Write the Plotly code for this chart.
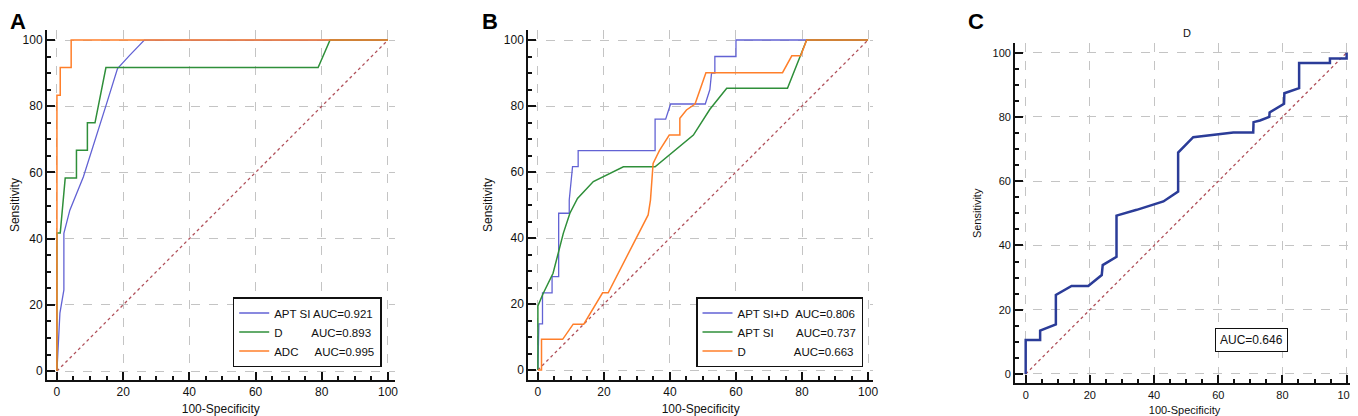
import plotly.graph_objects as go

# panel A: APT SI, D, ADC
a_apt_x = [0, 0.9, 2.1, 2.1, 3.9, 8, 15, 18.3, 22.1, 26.4, 100]
a_apt_y = [0, 17.5, 24.5, 41.6, 48.6, 58.7, 80.8, 91.4, 95.5, 100, 100]
a_d_x = [0, 0, 1, 2.5, 5.9, 5.9, 9.2, 9.2, 11.5, 14.8, 78.9, 82.5, 100]
a_d_y = [0, 41.7, 41.7, 58.3, 58.3, 66.7, 66.7, 75, 75, 91.7, 91.7, 100, 100]
a_adc_x = [0, 0, 1, 1, 4.3, 4.3, 100]
a_adc_y = [0, 83.3, 83.3, 91.7, 91.7, 100, 100]

# panel B: APT SI+D, APT SI, D
b_aptd_x = [0, 0.3, 1.4, 1.4, 4.3, 4.3, 6.3, 6.3, 9.5, 9.5, 10.5, 12.2, 12.2,
            35.5, 35.5, 38.7, 40.2, 50.7, 52.1, 52.6, 53.6, 53.6, 60, 60, 100]
b_aptd_y = [0, 14, 14, 23.4, 23.4, 28.3, 28.3, 47.5, 47.5, 51.5, 61.6, 61.6, 66.5,
            66.5, 76, 76, 80.6, 80.6, 85, 90, 90, 95, 95, 100, 100]
b_apt_x = [0, 0, 1.6, 4.6, 7.7, 9.7, 12, 16.8, 25.9, 35.5, 47.1, 52.1, 57.2, 75.6, 81.4, 100]
b_apt_y = [0, 19.4, 23.2, 29.3, 41.4, 47.5, 52, 57.1, 61.6, 61.6, 71.2, 79, 85.4, 85.4, 100, 100]
b_d_x = [0, 1.1, 1.1, 7.5, 10.7, 13.9, 19.6, 21.3, 33.4, 34.1, 34.9, 36.8, 39.8, 43, 43,
         45, 47.6, 49.1, 50.9, 74.1, 76.9, 79.6, 81.4, 100]
b_d_y = [0, 0, 9.3, 9.3, 13.9, 13.9, 23.4, 23.4, 47, 51.5, 62.6, 66.5, 71.2, 71.2, 76.3,
         78.8, 80.6, 84.8, 90.1, 90.1, 95.2, 95.2, 100, 100]

# panel C: D alone
c_x = [0, 0, 4.5, 4.5, 9.4, 9.4, 14.3, 19.5, 23.7, 24, 28.3, 28.3, 34.6, 42.9, 47.5, 47.5,
       52.2, 59.5, 64.7, 70.9, 71, 73, 75.9, 76, 80.5, 80.6, 85.2, 85.2, 94.8, 94.8, 100, 100]
c_y = [0, 10.6, 10.6, 13.5, 15.4, 24.6, 27.4, 27.4, 30.8, 33.9, 36.5, 49.3, 51.1, 53.7, 56.8, 68.9,
       73.7, 74.5, 75.2, 75.2, 78.4, 78.9, 80, 81.4, 84.1, 87.4, 89, 96.8, 96.8, 98.2, 98.2, 100]

diag = [0, 100]
nb = "\u00a0"

blue = "#6262d4"
green = "#2f8f3a"
orange = "#ff7f2a"
dark_blue = "#2b3c98"
red_dot = "#b0505a"
FONT = "Liberation Sans, Arial, sans-serif"

# page body has an 8px margin, so the figure is 16px smaller and positions shift by 8
W, H, OFF = 1350, 408, 8


def px(p):
    return (p - OFF) / W


def py(p):
    return 1 - (p - OFF) / H


fig = go.Figure()

# A
fig.add_trace(go.Scatter(x=diag, y=diag, mode="lines", line=dict(color=red_dot, width=1.3, dash="dot"),
                         showlegend=False, xaxis="x", yaxis="y"))
fig.add_trace(go.Scatter(x=a_apt_x, y=a_apt_y, mode="lines", line=dict(color=blue, width=1.3),
                         name="APT SI AUC=0.921", legend="legend", xaxis="x", yaxis="y"))
fig.add_trace(go.Scatter(x=a_d_x, y=a_d_y, mode="lines", line=dict(color=green, width=1.5),
                         name="D" + nb * 9 + "AUC=0.893", legend="legend", xaxis="x", yaxis="y"))
fig.add_trace(go.Scatter(x=a_adc_x, y=a_adc_y, mode="lines", line=dict(color=orange, width=1.5),
                         name="ADC" + nb * 5 + "AUC=0.995", legend="legend", xaxis="x", yaxis="y"))

# B
fig.add_trace(go.Scatter(x=diag, y=diag, mode="lines", line=dict(color=red_dot, width=1.3, dash="dot"),
                         showlegend=False, xaxis="x2", yaxis="y2"))
fig.add_trace(go.Scatter(x=b_aptd_x, y=b_aptd_y, mode="lines", line=dict(color=blue, width=1.3),
                         name="APT SI+D" + nb * 2 + "AUC=0.806", legend="legend2", xaxis="x2", yaxis="y2"))
fig.add_trace(go.Scatter(x=b_apt_x, y=b_apt_y, mode="lines", line=dict(color=green, width=1.5),
                         name="APT SI" + nb * 7 + "AUC=0.737", legend="legend2", xaxis="x2", yaxis="y2"))
fig.add_trace(go.Scatter(x=b_d_x, y=b_d_y, mode="lines", line=dict(color=orange, width=1.5),
                         name="D" + nb * 15 + "AUC=0.663", legend="legend2", xaxis="x2", yaxis="y2"))

# C
fig.add_trace(go.Scatter(x=diag, y=diag, mode="lines", line=dict(color=red_dot, width=1.3, dash="dot"),
                         showlegend=False, xaxis="x3", yaxis="y3"))
fig.add_trace(go.Scatter(x=c_x, y=c_y, mode="lines", line=dict(color=dark_blue, width=2.5),
                         showlegend=False, xaxis="x3", yaxis="y3"))


def axis(domain, rng, title, anchor, size=12, standoff=7):
    return dict(
        domain=domain, range=rng, anchor=anchor, automargin=False,
        tickmode="linear", tick0=0, dtick=20, ticks="inside", ticklen=8, tickwidth=1.5,
        tickcolor="#111", showline=True, linecolor="#111", linewidth=2,
        showgrid=True, gridcolor="#c4c4c4", griddash="dash", gridwidth=1, zeroline=False,
        minor=dict(dtick=5, tick0=0, ticks="inside", ticklen=4, tickcolor="#111", showgrid=False),
        tickfont=dict(family=FONT, size=size, color="#111"),
        title=dict(text=title, font=dict(family=FONT, size=size, color="#111"), standoff=standoff),
    )


legend_style = dict(bgcolor="white", bordercolor="#111", borderwidth=1.5,
                    font=dict(family=FONT, size=11.5, color="#111"),
                    xanchor="left", yanchor="top", itemwidth=30, tracegroupgap=0)

fig.update_layout(
    width=W, height=H,
    margin=dict(l=0, r=0, t=0, b=0),
    paper_bgcolor="white", plot_bgcolor="white",
    font=dict(family=FONT, color="#111"),
    xaxis=axis([px(47), px(394.6)], [-3, 102], "100-Specificity", "y"),
    yaxis=axis([py(380), py(30.1)], [-2.7, 103], "Sensitivity", "x", standoff=9),
    xaxis2=axis([px(528.3), px(873)], [-2.9, 101.5], "100-Specificity", "y2"),
    yaxis2=axis([py(379.9), py(30.1)], [-3, 103], "Sensitivity", "x2", standoff=9),
    xaxis3=axis([px(1015.1), px(1354)], [-3.3, 102.3], "100-Specificity", "y3", size=11),
    yaxis3=axis([py(383.3), py(43.4)], [-2.9, 102.9], "Sensitivity", "x3", size=11, standoff=9),
    legend=dict(x=px(232.7), y=py(297), **legend_style),
    legend2=dict(x=px(696), y=py(297), **legend_style),
)

fig.add_annotation(text="<b>A</b>", x=0, y=py(21.5), xref="paper", yref="paper",
                   xanchor="left", yanchor="middle", showarrow=False,
                   font=dict(family=FONT, size=22, color="black"))
for letter, lx in [("B", 489.5), ("C", 976)]:
    fig.add_annotation(text="<b>" + letter + "</b>", x=px(lx), y=py(21.5), xref="paper", yref="paper",
                       xanchor="center", yanchor="middle", showarrow=False,
                       font=dict(family=FONT, size=22, color="black"))

fig.add_annotation(text="D", x=px(1187), y=py(33), xref="paper", yref="paper",
                   xanchor="center", yanchor="middle", showarrow=False,
                   font=dict(family=FONT, size=11, color="#111"))
fig.add_annotation(text="AUC=0.646", x=70.3, y=10.6, xref="x3", yref="y3", showarrow=False,
                   bgcolor="white", bordercolor="#111", borderwidth=1, borderpad=4,
                   font=dict(family=FONT, size=12, color="#111"))

fig.write_html("out.html")
